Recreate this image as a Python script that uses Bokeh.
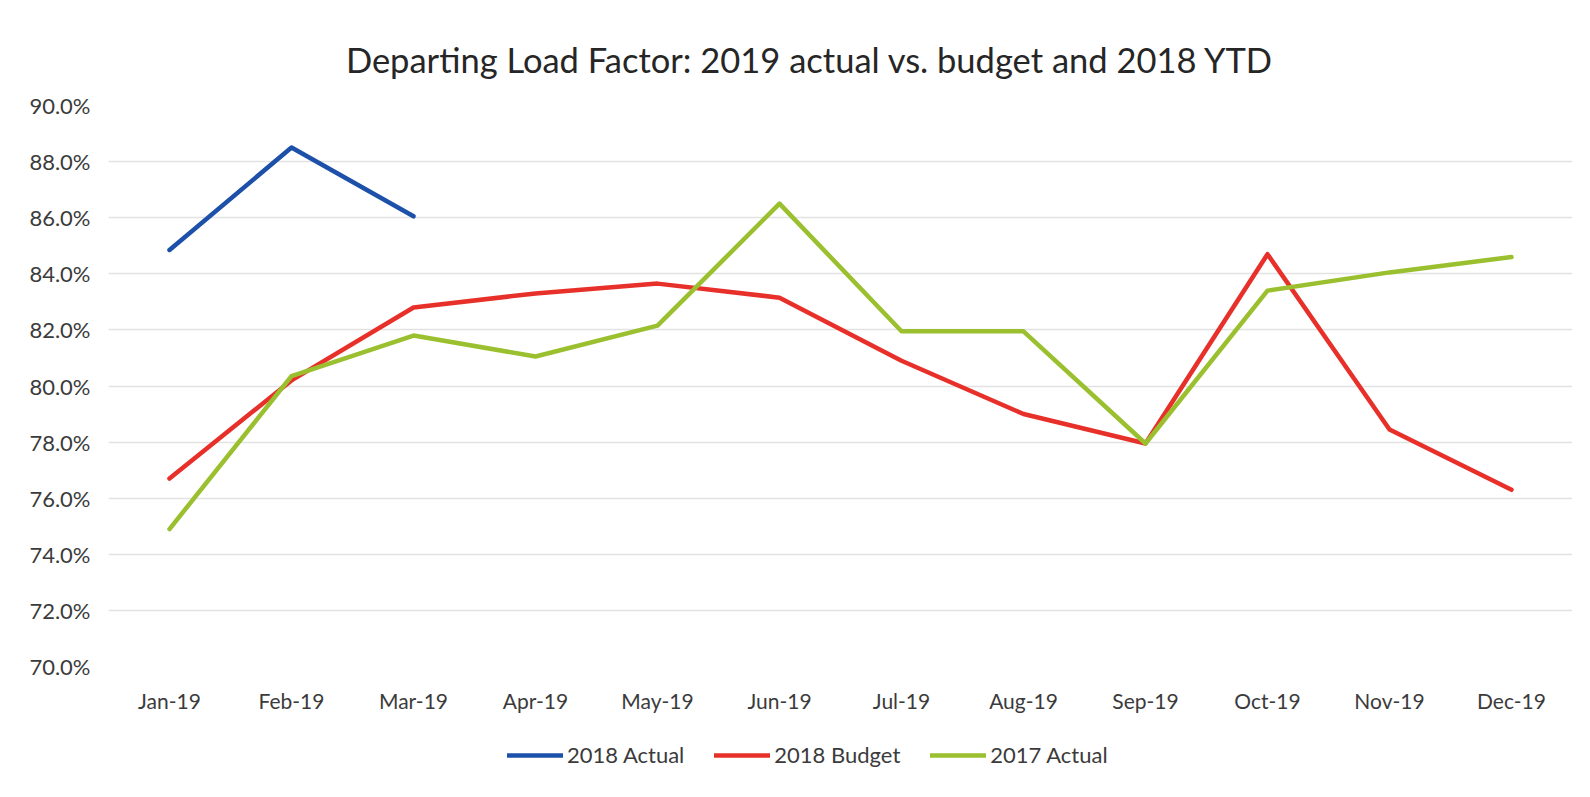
from bokeh.plotting import figure
from bokeh.layouts import column
from bokeh.models import (FactorRange, Range1d, FixedTicker, PrintfTickFormatter, Legend,
                          LegendItem, Label)
from bokeh.embed import file_html
from bokeh.resources import INLINE

months = ["Jan-19", "Feb-19", "Mar-19", "Apr-19", "May-19", "Jun-19",
          "Jul-19", "Aug-19", "Sep-19", "Oct-19", "Nov-19", "Dec-19"]
actual_2018 = [84.85, 88.5, 86.05]
budget_2018 = [76.7, 80.2, 82.8, 83.3, 83.65, 83.15, 80.9, 79.0, 77.95, 84.7, 78.45, 76.3]
actual_2017 = [74.9, 80.35, 81.8, 81.05, 82.15, 86.5, 81.95, 81.95, 77.95, 83.4, 84.05, 84.6]
y_ticks = [70, 72, 74, 76, 78, 80, 82, 84, 86, 88, 90]
series_names = ["2018 Actual", "2018 Budget", "2017 Actual"]
series_colors = ["#1d50a8", "#e8302a", "#9bc02f"]
title_text = "Departing Load Factor:  2019 actual vs. budget and 2018 YTD"

FONT = "Lato"
TXT = "#3b3b3b"
W = 1574
BL, BR = 108, 2


def strip(height):
    f = figure(width=W, height=height, output_backend="svg", toolbar_location=None,
               x_range=p.x_range, y_range=Range1d(0, 1),
               x_axis_type=None, y_axis_type=None,
               min_border_left=BL, min_border_right=BR, min_border_top=0, min_border_bottom=0)
    f.outline_line_color = None
    f.background_fill_color = "white"
    f.border_fill_color = "white"
    f.grid.visible = False
    return f


# main chart
p = figure(width=W, height=630, x_range=FactorRange(*months), y_range=Range1d(70, 90),
           output_backend="svg", toolbar_location=None,
           min_border_left=BL, min_border_right=BR, min_border_top=15, min_border_bottom=54)
p.outline_line_color = None
p.background_fill_color = "white"
p.border_fill_color = "white"

p.xgrid.grid_line_color = None
p.ygrid.grid_line_color = "#e2e2e2"
p.ygrid.grid_line_width = 1.5

p.yaxis.ticker = FixedTicker(ticks=y_ticks)
p.yaxis.formatter = PrintfTickFormatter(format="%.1f%%")
for ax in (p.xaxis, p.yaxis):
    ax.axis_line_color = None
    ax.major_tick_line_color = None
    ax.minor_tick_line_color = None
    ax.major_label_text_font = FONT
    ax.major_label_text_color = TXT
p.yaxis.major_label_text_font_size = "22px"
p.yaxis.major_label_standoff = 12
p.xaxis.major_label_text_font_size = "21px"
p.xaxis.major_label_standoff = 15

line_kw = dict(line_width=4.5, line_cap="round", line_join="round")
series = [(months[:3], actual_2018), (months, budget_2018), (months, actual_2017)]
for (xs, ys), col in zip(series, series_colors):
    p.line(xs, ys, line_color=col, **line_kw)

# title strip
pt = strip(90)
pt.add_layout(Label(x=706, y=31, x_units="screen", y_units="screen", text=title_text,
                    text_align="center", text_baseline="middle", text_font=FONT,
                    text_font_size="34.5px", text_color="#262626"))

# legend strip (series drawn again but fall outside this strip's y range, so only the legend shows)
pl = strip(61)
items = []
for (xs, ys), name, col in zip(series, series_names, series_colors):
    r = pl.line(xs, ys, line_color=col, **line_kw)
    items.append(LegendItem(label=name, renderers=[r]))
legend = Legend(items=items, orientation="horizontal", location=(399, 13),
                label_text_font=FONT, label_text_font_size="22px", label_text_color=TXT,
                glyph_width=56, glyph_height=20, label_standoff=4, spacing=30,
                border_line_color=None, background_fill_alpha=0, margin=0, padding=6)
pl.add_layout(legend, "center")

layout = column(pt, p, pl, spacing=0)
open("out.html", "w").write(file_html(layout, INLINE))
